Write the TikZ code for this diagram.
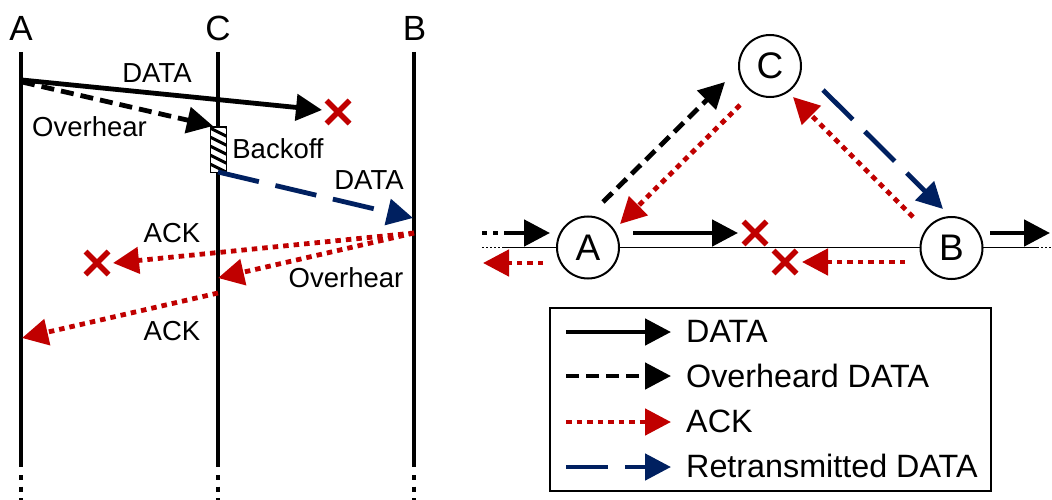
\documentclass[tikz,border=0pt]{standalone}
\usepackage{fontspec}
\setmainfont{Liberation Sans}
\usetikzlibrary{arrows.meta}
\definecolor{ackred}{RGB}{192,0,0}
\definecolor{navy}{RGB}{0,32,96}

\begin{document}
\begin{tikzpicture}[x=1pt,y=-1pt,
  headtip/.style={-{Triangle[length=26pt,width=26pt]}},
  dataline/.style={line width=4.8pt, headtip},
  ovhline/.style={line width=4.8pt, dash pattern=on 13pt off 7pt, headtip},
  ackline/.style={line width=4.8pt, ackred, dash pattern=on 5.5pt off 5pt, headtip},
  retxline/.style={line width=4.8pt, navy, dash pattern=on 42pt off 17pt, headtip},
  lifeline/.style={line width=4.6pt},
  lifedots/.style={line width=4.6pt, dash pattern=on 5pt off 6.5pt},
  lifelbl/.style={anchor=base, inner sep=0pt, font=\fontsize{35}{40}\selectfont},
  msglbl/.style={anchor=base, inner sep=0pt, font=\fontsize{27.5}{33}\selectfont},
  legendlbl/.style={anchor=base west, inner sep=0pt, font=\fontsize{32.3}{38}\selectfont},
  station/.style={circle, draw, line width=2pt, fill=white, minimum size=62pt,
    inner sep=0pt, font=\fontsize{37}{44}\selectfont},
  linkline/.style={line width=1.7pt},
  linkdots/.style={line width=1.7pt, dash pattern=on 2pt off 2pt},
  xmark/.pic={\draw[ackred, line width=5.5pt] (-11.5,-11.5) -- (11.5,11.5)
    (-11.5,11.5) -- (11.5,-11.5);}
]
\useasboundingbox (0,0) rectangle (1052,500);

% ---------------- time-sequence chart ----------------
\node[lifelbl] (lblA) at (21,41) {A};
\node[lifelbl] (lblC) at (218,41) {C};
\node[lifelbl] (lblB) at (414.5,41) {B};

\coordinate (A0) at (21,52);  \coordinate (A1) at (21,467);
\coordinate (C0) at (218,52); \coordinate (C1) at (218,467);
\coordinate (B0) at (414,52); \coordinate (B1) at (414,467);
\coordinate (Ad) at (21,475); \coordinate (Ae) at (21,500);
\coordinate (Cd) at (218,475); \coordinate (Ce) at (218,500);
\coordinate (Bd) at (414,475); \coordinate (Be) at (414,500);
\draw[lifeline] (A0) -- (A1);
\draw[lifeline] (C0) -- (C1);
\draw[lifeline] (B0) -- (B1);
\draw[lifedots] (Ad) -- (Ae);
\draw[lifedots] (Cd) -- (Ce);
\draw[lifedots] (Bd) -- (Be);

% A sends DATA, C overhears it
\coordinate (dA) at (22,80);   \coordinate (dX) at (322,110);
\coordinate (oA) at (22,82);   \coordinate (oC) at (213,126);
\draw[dataline] (dA) -- (dX);
\draw[ovhline] (oA) -- (oC);
\pic at (338,112) {xmark};
\node[msglbl] (tData1) at (157,83) {DATA};
\node[msglbl] (tOvh1) at (89.5,137) {Overhear};

% backoff interval at C
\node[draw, line width=1pt, fill=white, minimum width=16pt, minimum height=45pt,
  inner sep=0pt, anchor=north west] (boff) at (210,127) {};
\begin{scope}
  \clip (210,127) rectangle (226,172);
  \foreach \k in {0,...,7}
    \draw[line width=3pt] (208,118+9*\k) -- (228,128+9*\k);
\end{scope}
\draw[line width=1pt] (210,127) rectangle (226,172);
\node[msglbl] (tBoff) at (278,159) {Backoff};

% C retransmits DATA to B
\coordinate (rC) at (218,172); \coordinate (rB) at (413,218);
\draw[retxline] (rC) -- (rB);
\node[msglbl] (tData2) at (369,189) {DATA};

% B answers with ACK
\coordinate (kB) at (414,233);
\coordinate (kX) at (113,263);
\coordinate (kC) at (218,278);
\draw[ackline] (kB) -- (kX);
\draw[ackline] (kB) -- (kC);
\pic at (97,263) {xmark};
\node[msglbl] (tAck1) at (172,242.5) {ACK};
\node[msglbl] (tOvh2) at (346,287.5) {Overhear};

% C relays the ACK to A
\coordinate (kC2) at (218,293); \coordinate (kA) at (22,338);
\draw[ackline] (kC2) -- (kA);
\node[msglbl] (tAck2) at (172,340) {ACK};

% ---------------- topology ----------------
\coordinate (Ld) at (482,247.5); \coordinate (Ls) at (503,247.5);
\coordinate (Rs) at (1037,247.5); \coordinate (Rd) at (1052,247.5);
\draw[linkdots] (Ld) -- (Ls);
\draw[linkline] (Ls) -- (Rs);
\draw[linkdots] (Rs) -- (Rd);

\node[station] (nA) at (588,247.5) {A};
\node[station] (nB) at (951.5,248) {B};
\node[station] (nC) at (770,66) {C};

% traffic entering A and leaving B
\coordinate (inD) at (482,233); \coordinate (inS) at (505,233); \coordinate (inE) at (550,233);
\draw[line width=4.8pt, dash pattern=on 5pt off 6pt] (inD) -- (inS);
\draw[dataline] (inS) -- (inE);
\coordinate (outS) at (990,233); \coordinate (outE) at (1050,233);
\draw[dataline] (outS) -- (outE);
\coordinate (backS) at (543,263); \coordinate (backE) at (483,263);
\draw[ackline] (backS) -- (backE);

% direct A-B exchange fails
\coordinate (abS) at (633,233); \coordinate (abE) at (738,233);
\draw[dataline] (abS) -- (abE);
\pic at (755,233) {xmark};
\coordinate (baS) at (905,262); \coordinate (baE) at (802,262);
\draw[ackline] (baS) -- (baE);
\pic at (785,262) {xmark};

% relayed exchange through C
\coordinate (acS) at (603,202); \coordinate (acE) at (725,82);
\draw[ovhline] (acS) -- (acE);
\coordinate (caS) at (740,105); \coordinate (caE) at (620,224);
\draw[ackline] (caS) -- (caE);
\coordinate (cbS) at (823,90); \coordinate (cbE) at (943,209);
\draw[retxline] (cbS) -- (cbE);
\coordinate (bcS) at (913,217); \coordinate (bcE) at (793,97);
\draw[ackline] (bcS) -- (bcE);

% ---------------- legend ----------------
\node[draw, line width=2pt, minimum width=441pt, minimum height=183pt,
  inner sep=0pt, anchor=north west] (legend) at (549,307) {};
\coordinate (g1s) at (566,332); \coordinate (g1e) at (671,332);
\coordinate (g2s) at (566,376); \coordinate (g2e) at (671,376);
\coordinate (g3s) at (566,422); \coordinate (g3e) at (671,422);
\coordinate (g4s) at (566,467); \coordinate (g4e) at (671,467);
\draw[dataline] (g1s) -- (g1e);
\draw[ovhline] (g2s) -- (g2e);
\draw[ackline] (g3s) -- (g3e);
\draw[retxline] (g4s) -- (g4e);
\node[legendlbl] (lg1) at (686,342) {DATA};
\node[legendlbl] (lg2) at (686,387) {Overheard DATA};
\node[legendlbl] (lg3) at (686,432) {ACK};
\node[legendlbl] (lg4) at (686,477) {Retransmitted DATA};
\end{tikzpicture}
\end{document}
